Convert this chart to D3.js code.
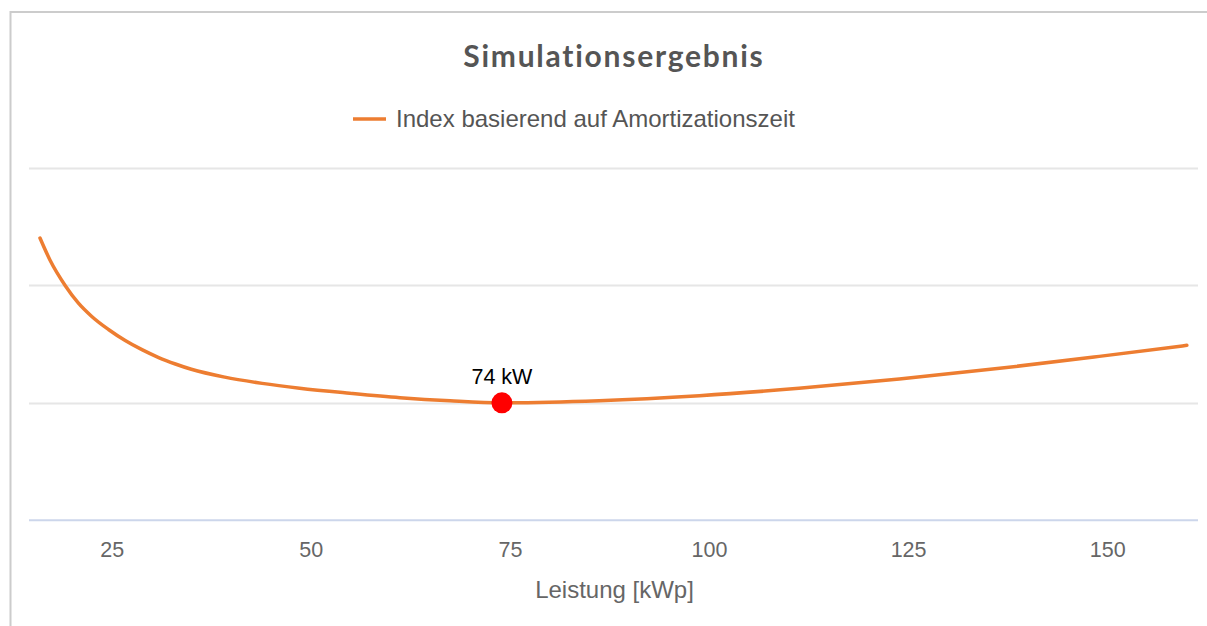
<!DOCTYPE html>
<html>
<head>
<meta charset="utf-8">
<script src="https://cdn.jsdelivr.net/npm/d3@7"></script>
<style>
  html, body { margin: 0; padding: 0; background: #fff; }
  svg { display: block; }
</style>
</head>
<body>
<svg id="chart" width="1207" height="626"></svg>
<script>
// ---- Data ----
const titleText = "Simulationsergebnis";
const seriesName = "Index basierend auf Amortizationszeit";
const xAxisTitle = "Leistung [kWp]";
const kWp = [16, 17.25, 19.2, 20.8, 22.5, 24.6, 26.7, 28.8, 30.9, 33, 35, 39.2, 43.9, 48.6, 54.9, 61.2, 67.5, 74, 86.2, 98.8, 111.3, 123.9, 136.5, 149, 160];
const indexValues = [2.404, 2.217, 1.996, 1.851, 1.736, 1.625, 1.531, 1.453, 1.386, 1.331, 1.286, 1.219, 1.166, 1.125, 1.082, 1.044, 1.017, 1.0, 1.018, 1.061, 1.124, 1.203, 1.294, 1.396, 1.49];
const xTicks = [25, 50, 75, 100, 125, 150];
const yTicks = [0, 1, 2, 3];
const optimumKWp = 74;
const optimumValue = 1.0;
const optimumLabel = "74 kW";

// ---- Layout ----
const svg = d3.select("#chart");
const plotLeft = 29, plotRight = 1198, plotTop = 168, plotBottom = 520.3;
const x = d3.scaleLinear().domain([14.62, 161.4]).range([plotLeft, plotRight]);
const y = d3.scaleLinear().domain([0, 3]).range([plotBottom, plotTop]);

// frame border
svg.append("path")
  .attr("d", `M10.5,626 L10.5,12 L1207,12`)
  .attr("fill", "none").attr("stroke", "#cccccc").attr("stroke-width", 2);

// gridlines
svg.append("g").selectAll("line").data(yTicks.filter(d => d !== 0)).join("line")
  .attr("x1", plotLeft).attr("x2", plotRight)
  .attr("y1", d => Math.round(y(d)) + 0.5).attr("y2", d => Math.round(y(d)) + 0.5)
  .attr("stroke", "#e6e6e6").attr("stroke-width", 2);

// x axis
const xAxis = d3.axisBottom(x).tickValues(xTicks).tickSize(0).tickPadding(0);
const gx = svg.append("g").attr("transform", `translate(0,${plotBottom})`).call(xAxis);
gx.select(".domain").attr("stroke", "#ccd6eb").attr("stroke-width", 2)
  .attr("d", `M${plotLeft},0H${plotRight}`);
gx.selectAll(".tick text")
  .attr("y", 37).attr("dy", null)
  .attr("fill", "#666666")
  .style("font-family", "'Liberation Sans', Arial, sans-serif")
  .style("font-size", "21.5px");

// axis title
svg.append("text")
  .attr("x", (plotLeft + plotRight) / 2 + 1).attr("y", 598)
  .attr("text-anchor", "middle")
  .attr("fill", "#666666")
  .style("font-family", "'Liberation Sans', Arial, sans-serif")
  .style("font-size", "24px")
  .text(xAxisTitle);

// title
svg.append("text")
  .attr("x", 613 + 0.9).attr("y", 67)
  .attr("text-anchor", "middle")
  .attr("fill", "#555555")
  .style("font-family", "Lato, sans-serif")
  .style("font-weight", "bold")
  .style("font-size", "30px")
  .style("letter-spacing", "1.75px")
  .text(titleText);

// legend
svg.append("line")
  .attr("x1", 353).attr("x2", 386).attr("y1", 119).attr("y2", 119)
  .attr("stroke", "#ED7D31").attr("stroke-width", 3.5);
svg.append("text")
  .attr("x", 396).attr("y", 127)
  .attr("fill", "#555555")
  .style("font-family", "'Liberation Sans', Arial, sans-serif")
  .style("font-size", "24px")
  .text(seriesName);

// line
const pts = kWp.map((k, i) => [k, indexValues[i]]);
const line = d3.line().x(d => x(d[0])).y(d => y(d[1])).curve(d3.curveMonotoneX);
svg.append("path")
  .datum(pts)
  .attr("d", line)
  .attr("fill", "none")
  .attr("stroke", "#ED7D31")
  .attr("stroke-width", 3.5)
  .attr("stroke-linecap", "round")
  .attr("stroke-linejoin", "round");

// optimum marker
svg.append("circle")
  .attr("cx", x(optimumKWp)).attr("cy", y(optimumValue))
  .attr("r", 10.5).attr("fill", "#ff0000");
svg.append("text")
  .attr("x", x(optimumKWp)).attr("y", y(optimumValue) - 19)
  .attr("text-anchor", "middle")
  .attr("fill", "#000000")
  .style("font-family", "'Liberation Sans', Arial, sans-serif")
  .style("font-size", "21.5px")
  .text(optimumLabel);
</script>
</body>
</html>
